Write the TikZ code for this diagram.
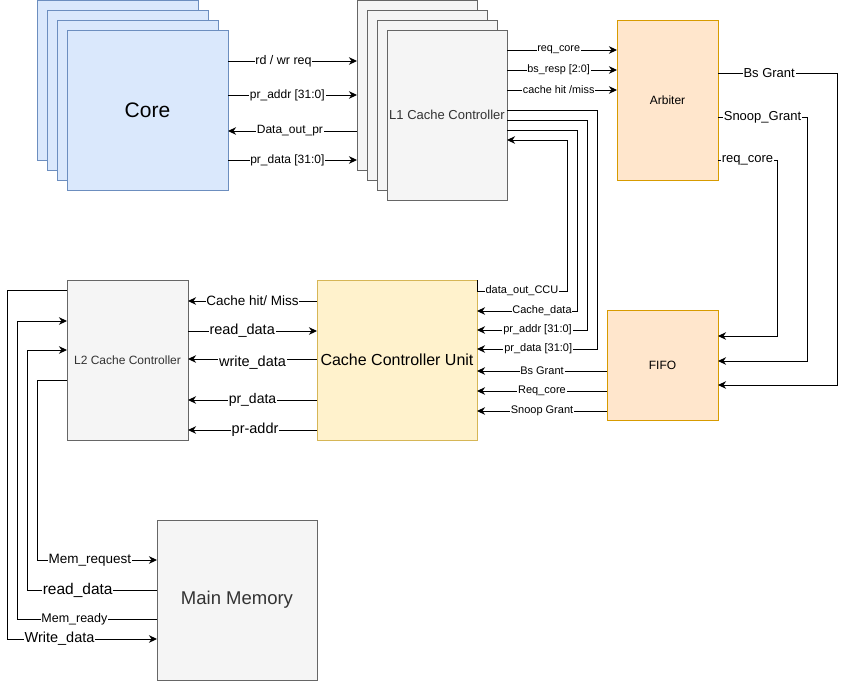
\documentclass[tikz,border=0pt]{standalone}
\usepackage{fontspec}
\setmainfont{Liberation Sans}
\usetikzlibrary{arrows.meta}
\definecolor{coreFill}{HTML}{DAE8FC}
\definecolor{coreLine}{HTML}{6C8EBF}
\definecolor{grayFill}{HTML}{F5F5F5}
\definecolor{grayLine}{HTML}{666666}
\definecolor{grayText}{HTML}{333333}
\definecolor{arbFill}{HTML}{FFE6CC}
\definecolor{arbLine}{HTML}{D79B00}
\definecolor{ccuFill}{HTML}{FFF2CC}
\definecolor{ccuLine}{HTML}{D6B656}

\begin{document}
\begin{tikzpicture}[x=1pt,y=-1pt,line width=1pt,
    box/.style={draw,anchor=north west,outer sep=0pt,inner sep=1pt,font=\fontsize{#1}{#1}\selectfont},
    box/.default=12,
    corebox/.style={box=#1,fill=coreFill,draw=coreLine},
    graybox/.style={box=#1,fill=grayFill,draw=grayLine,text=grayText},
    arbbox/.style={box=#1,fill=arbFill,draw=arbLine},
    ccubox/.style={box=#1,fill=ccuFill,draw=ccuLine},
    sig/.style={-{Stealth[length=8pt,width=7.5pt,inset=2.5pt]}},
    lbl/.style={fill=white,inner sep=0.8pt,font=\fontsize{#1}{#1}\selectfont},
    lbl/.default=12]
  \useasboundingbox (0,0) rectangle (846,681);
  \foreach \d [count=\i] in {0,10,20} {
      \node[corebox=12,minimum width=161pt,minimum height=160pt] (coreback\i) at (37+\d,\d) {};
      \node[graybox=12,minimum width=120pt,minimum height=170pt] (loneback\i) at (357+\d,\d) {};
    }
  \node[corebox=21,minimum width=161pt,minimum height=160pt] (core) at (67,30) {Core};
  \node[graybox=13,minimum width=120pt,minimum height=170pt] (lone) at (387,30) {L1 Cache Controller};
  \node[arbbox=12,minimum width=101pt,minimum height=160pt] (arb) at (617,20) {Arbiter};
  \node[arbbox=12,minimum width=111pt,minimum height=110pt] (fifo) at (607,310) {FIFO};
  \node[ccubox=16,minimum width=160pt,minimum height=160pt] (ccu) at (317,280) {Cache Controller Unit};
  \node[graybox=12,minimum width=121pt,minimum height=160pt] (ltwo) at (67,280) {L2 Cache Controller};
  \node[graybox=18.5,minimum width=160pt,minimum height=160pt] (mem) at (157,520) {Main Memory};

  \draw[sig] (core.east |- 0,61) -- node[lbl=12.5,pos=0.43]{rd / wr req} (loneback1.west |- 0,61);
  \draw[sig] (core.east |- 0,95) -- node[lbl,pos=0.46]{pr\_addr [31:0]} (loneback1.west |- 0,95);
  \draw[sig] (loneback1.west |- 0,131) -- node[lbl,pos=0.52]{Data\_out\_pr} (core.east |- 0,131);
  \draw[sig] (core.east |- 0,160) -- node[lbl,pos=0.46]{pr\_data [31:0]} (loneback1.west |- 0,160);

  \foreach \y/\t in {50/req\_core,70/bs\_resp [2:0],90/{cache hit /miss}}
    \draw[sig] (lone.east |- 0,\y) -- node[lbl=10.8,pos=0.47]{\t} (arb.west |- 0,\y);

  \foreach \y/\x/\z/\p/\t in {73/837/385/0.43/Bs Grant,117/807/361/0.5/Snoop\_Grant,160/777/336/0.5/req\_core}
    \draw[sig] (arb.east |- 0,\y) -- node[lbl=13,pos=\p]{\t} (\x,\y) |- (fifo.east |- 0,\z);

  \foreach \y/\t in {371/Bs Grant,391/Req\_core,411/Snoop Grant}
    \draw[sig] (fifo.west |- 0,\y) -- node[lbl=11]{\t} (ccu.east |- 0,\y);

  \draw[sig] (lone.east |- 0,110) -| (597,349) -- node[lbl=11,pos=0.49]{pr\_data [31:0]} (ccu.east |- 0,349);
  \draw[sig] (lone.east |- 0,120) -| (587,330) -- node[lbl=11,pos=0.45]{pr\_addr [31:0]} (ccu.east |- 0,330);
  \draw[sig] (lone.east |- 0,130) -| (577,311) -- node[lbl=11,pos=0.35]{Cache\_data} (ccu.east |- 0,311);
  \draw[sig] (ccu.north east) |- node[lbl=11,pos=0.75]{data\_out\_CCU} (567,291) |- (lone.east |- 0,140);

  \draw[sig] (ccu.west |- 0,301) -- node[lbl=13.5]{Cache hit/ Miss} (ltwo.east |- 0,301);
  \draw[sig] (ltwo.east |- 0,331) -- node[lbl=14.5,pos=0.42]{read\_data} (ccu.west |- 0,331);
  \draw[sig] (ccu.west |- 0,359) -- node[lbl=14.5,yshift=-4pt]{write\_data} (ltwo.east |- 0,359);
  \draw[sig] (ccu.west |- 0,400) -- node[lbl=14]{pr\_data} (ltwo.east |- 0,400);
  \draw[sig] (ccu.west |- 0,430) -- node[lbl=14.5,pos=0.48]{pr-addr} (ltwo.east |- 0,430);

  \draw[sig] (ltwo.west |- 0,380) -| (37,560) -- node[lbl=13.5,pos=0.44]{Mem\_request} (mem.west |- 0,560);
  \draw[sig] (mem.west |- 0,590) -- node[lbl=15.5,pos=0.61]{read\_data} (27,590) |- (ltwo.west |- 0,350);
  \draw[sig] (mem.west |- 0,619) -- node[lbl=12.5,pos=0.59]{Mem\_ready} (17,619) |- (ltwo.west |- 0,321);
  \draw[sig] (ltwo.west |- 0,290) -| (7,639) -- node[lbl=14.5,pos=0.35]{Write\_data} (mem.west |- 0,639);
\end{tikzpicture}
\end{document}
